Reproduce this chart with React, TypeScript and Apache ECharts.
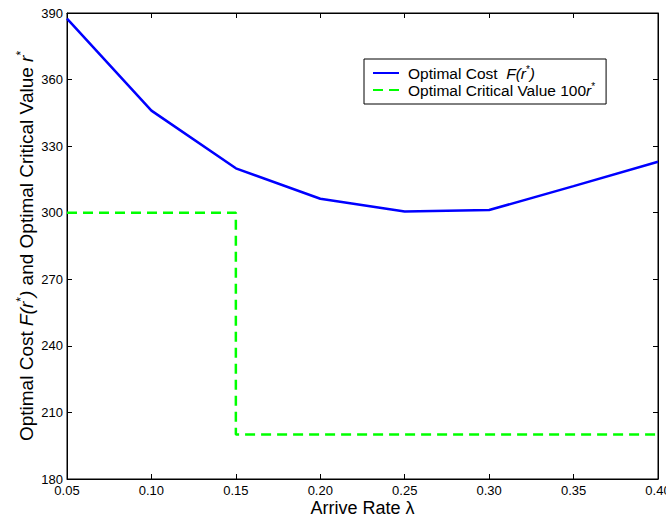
import React, { useEffect, useRef } from "react";
import * as echarts from "echarts";

const lambdas = [0.05, 0.1, 0.15, 0.2, 0.25, 0.3, 0.35, 0.4];
const optimalCost = [387.5, 346, 320, 306.3, 300.5, 301.2, 312, 323];
const criticalValue100 = [300, 300, 300, 200, 200, 200, 200, 200];
const yMin = 180;
const yMax = 390;
const yInterval = 30;

const costName = "Optimal Cost  F(r*)";
const critName = "Optimal Critical Value 100r*";

export default function App() {
  const ref = useRef<HTMLDivElement>(null);
  useEffect(() => {
    if (!ref.current) return;
    const chart = echarts.init(ref.current, null, { renderer: "svg" });
    const font = "Liberation Sans, Arial, Helvetica, sans-serif";
    const tickLabel = { color: "#000", fontFamily: font, fontSize: 13 };
    chart.setOption({
      animation: false,
      backgroundColor: "#fff",
      textStyle: { fontFamily: font },
      grid: {
        left: 67,
        right: 8,
        top: 13,
        bottom: 38,
        show: true,
        borderColor: "#000",
        borderWidth: 1,
        containLabel: false,
        outerBoundsMode: "none",
      },
      legend: {
        left: 364,
        top: 59,
        orient: "vertical",
        backgroundColor: "#fff",
        borderColor: "#000",
        borderWidth: 1,
        padding: [5, 11, 6, 8],
        itemGap: 0,
        itemWidth: 26,
        itemHeight: 14,
        itemStyle: { opacity: 0 },
        data: [costName, critName],
        formatter: (n: string) =>
          n === costName
            ? "{t|Optimal Cost  }{i|F(r}{s|*}{i|)}"
            : "{t|Optimal Critical Value 100}{i|r}{s|*}",
        textStyle: {
          color: "#000",
          fontFamily: font,
          rich: {
            t: { fontSize: 15.5, fontFamily: font, color: "#000", lineHeight: 18, padding: [0, 0, 0, 4] },
            i: { fontSize: 15.5, fontFamily: font, color: "#000", fontStyle: "italic", lineHeight: 18 },
            s: { fontSize: 10, fontFamily: font, color: "#000", verticalAlign: "top", lineHeight: 18 },
          },
        },
      },
      xAxis: [
        {
          type: "value",
          min: 0.05,
          max: 0.4,
          interval: 0.05,
          name: "Arrive Rate λ",
          nameLocation: "middle",
          nameGap: 20,
          nameMoveOverlap: false,
          nameTextStyle: { color: "#000", fontSize: 18, fontFamily: font },
          axisLine: { lineStyle: { color: "#000", width: 1 } },
          axisTick: { inside: true, length: 5, lineStyle: { color: "#000" } },
          axisLabel: {
            ...tickLabel,
            margin: 5,
            formatter: (v: number) => v.toFixed(2),
          },
          splitLine: { show: false },
        },
        {
          type: "value",
          position: "top",
          min: 0.05,
          max: 0.4,
          interval: 0.05,
          axisLine: { lineStyle: { color: "#000", width: 1 } },
          axisTick: { inside: true, length: 5, lineStyle: { color: "#000" } },
          axisLabel: { show: false },
          splitLine: { show: false },
        },
      ],
      yAxis: [
        {
          type: "value",
          min: yMin,
          max: yMax,
          interval: yInterval,
          name:
            "Optimal Cost {i|F(r}{s|*}{i|)} and Optimal Critical Value {i|r}{s|*}",
          nameLocation: "middle",
          nameRotate: 90,
          nameGap: 30,
          nameMoveOverlap: false,
          nameTextStyle: {
            color: "#000",
            fontSize: 19,
            fontFamily: font,
            lineHeight: 22,
            rich: {
              i: { fontSize: 19, fontFamily: font, color: "#000", fontStyle: "italic", lineHeight: 22 },
              s: { fontSize: 12, fontFamily: font, color: "#000", verticalAlign: "top", lineHeight: 22 },
            },
          },
          axisLine: { show: true, lineStyle: { color: "#000", width: 1 } },
          axisTick: { inside: true, length: 5, lineStyle: { color: "#000" } },
          axisLabel: { ...tickLabel, margin: 4 },
          splitLine: { show: false },
        },
        {
          type: "value",
          position: "right",
          min: yMin,
          max: yMax,
          interval: yInterval,
          axisLine: { show: true, lineStyle: { color: "#000", width: 1 } },
          axisTick: { inside: true, length: 5, lineStyle: { color: "#000" } },
          axisLabel: { show: false },
          splitLine: { show: false },
        },
      ],
      series: [
        {
          name: costName,
          type: "line",
          symbol: "none",
          data: lambdas.map((x, i) => [x, optimalCost[i]]),
          lineStyle: { color: "#0000ff", width: 2.5 },
          itemStyle: { color: "#0000ff" },
        },
        {
          name: critName,
          type: "line",
          symbol: "none",
          step: "start",
          data: lambdas.map((x, i) => [x, criticalValue100[i]]),
          lineStyle: { color: "#00ff00", width: 2.5, type: [10, 6] },
          itemStyle: { color: "#00ff00" },
        },
      ],
    });
    return () => chart.dispose();
  }, []);
  return (
    <div
      ref={ref}
      style={{ position: "fixed", left: 0, top: 0, width: 666, height: 517 }}
    />
  );
}
